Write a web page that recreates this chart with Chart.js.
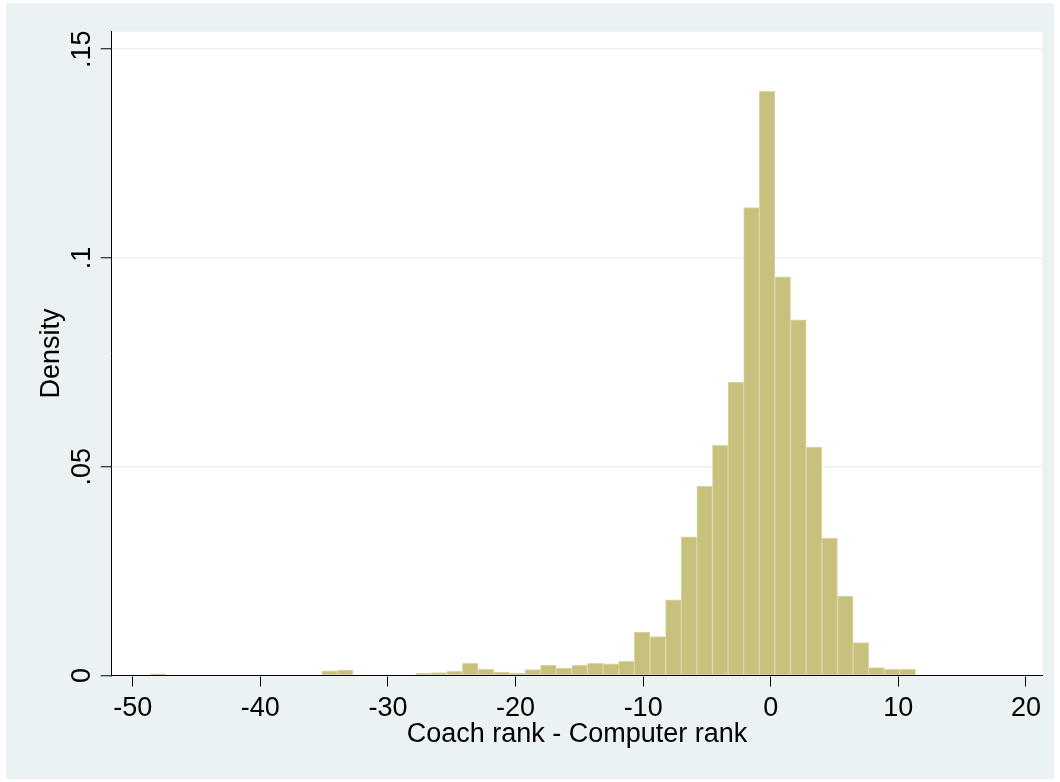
<!DOCTYPE html>
<html>
<head>
<meta charset="utf-8">
<script src="https://cdn.jsdelivr.net/npm/chart.js@4.4.1/dist/chart.umd.min.js"></script>
<style>
  html, body { margin: 0; padding: 0; background: #fff; }
  #wrap { width: 1060px; height: 782px; }
</style>
</head>
<body>
<div id="wrap"><canvas id="hist" width="1060" height="782"></canvas></div>
<script>
// histogram bins: start and width
const binStart = -48.65
const binWidth = 1.2245

// density of each bin, left to right
const density = [
  0.0004, 0, 0, 0, 0, 0, 0, 0, 0, 0,
  0, 0.0011, 0.0013, 0, 0, 0, 0, 0.0005, 0.0007, 0.0010,
  0.0029, 0.0015, 0.0008, 0.0006, 0.0014, 0.0025, 0.0018, 0.0025, 0.0029, 0.0028,
  0.0034, 0.0104, 0.0093, 0.0181, 0.0332, 0.0453, 0.0551, 0.0703, 0.1121, 0.1399,
  0.0955, 0.0852, 0.0547, 0.0329, 0.0190, 0.0079, 0.0019, 0.0015, 0.0015
]

const xTicks = [-50, -40, -30, -20, -10, 0, 10, 20]
const yTicks = [0, 0.05, 0.1, 0.15]
const yTickLabels = ["0", ".05", ".1", ".15"]

const xTitle = "Coach rank - Computer rank"
const yTitle = "Density"

const FONT = "'Liberation Sans', Arial, Helvetica, sans-serif"
Chart.defaults.font.family = FONT
Chart.defaults.color = "#000"

// stata-like backdrop: bluish gray frame, white plot region
const background = {
  id: "background",
  beforeDraw(chart) {
    const { ctx, chartArea } = chart
    ctx.save()
    ctx.fillStyle = "#ffffff"
    ctx.fillRect(0, 0, chart.width, chart.height)
    ctx.fillStyle = "#EAF2F3"
    ctx.fillRect(6, 3, chart.width - 12, chart.height - 6)
    ctx.fillStyle = "#ffffff"
    ctx.fillRect(chartArea.left, chartArea.top, chartArea.right - chartArea.left, chartArea.bottom - chartArea.top)
    ctx.restore()
  }
}

// y tick labels are drawn vertical, like stata does
const yLabels = {
  id: "yLabels",
  afterDraw(chart) {
    const { ctx } = chart
    const y = chart.scales.y
    ctx.save()
    ctx.font = "27px " + FONT
    ctx.fillStyle = "#000"
    ctx.textAlign = "center"
    ctx.textBaseline = "middle"
    yTicks.forEach((v, i) => {
      ctx.save()
      ctx.translate(83, y.getPixelForValue(v))
      ctx.rotate(-Math.PI / 2)
      ctx.fillText(yTickLabels[i], 0, 0)
      ctx.restore()
    })
    ctx.restore()
  }
}

const points = density.map((d, i) => ({ x: binStart + binWidth * (i + 0.5), y: d }))

new Chart(document.getElementById("hist"), {
  type: "bar",
  data: {
    datasets: [{
      data: points,
      backgroundColor: "#C8C17E",
      borderColor: "#DBD6A3",
      borderWidth: 1,
      borderSkipped: "start",
      barPercentage: 1,
      categoryPercentage: 1,
      grouped: false
    }]
  },
  options: {
    responsive: false,
    animation: false,
    events: [],
    layout: { padding: { left: 0, top: 31.7, right: 17.7, bottom: 0 } },
    plugins: {
      legend: { display: false },
      tooltip: { enabled: false }
    },
    scales: {
      x: {
        type: "linear",
        offset: false,
        min: -51.646,
        max: 21.28,
        afterBuildTicks: s => { s.ticks = xTicks.map(v => ({ value: v })) },
        afterFit: s => { s.height = 106.5 },
        ticks: {
          font: { size: 27 },
          color: "#000",
          padding: 6,
          maxRotation: 0,
          autoSkip: false,
          callback: v => String(v)
        },
        grid: { offset: false, drawOnChartArea: false, tickLength: 11, tickColor: "#000", tickWidth: 1 },
        border: { color: "#000", width: 1 },
        title: {
          display: true,
          text: xTitle,
          font: { size: 27 },
          color: "#000",
          padding: { top: 0, bottom: 31 }
        }
      },
      y: {
        min: 0,
        max: 0.1542,
        afterBuildTicks: s => { s.ticks = yTicks.map(v => ({ value: v })) },
        afterFit: s => { s.width = 111.7 },
        ticks: { display: false },
        grid: { color: "#EAF2F3", lineWidth: 1.5, tickLength: 11, tickColor: "#000", tickWidth: 1 },
        border: { color: "#000", width: 1 },
        title: {
          display: true,
          text: yTitle,
          font: { size: 27 },
          color: "#000",
          padding: { top: 35, bottom: 0 }
        }
      }
    }
  },
  plugins: [background, yLabels]
})
</script>
</body>
</html>
